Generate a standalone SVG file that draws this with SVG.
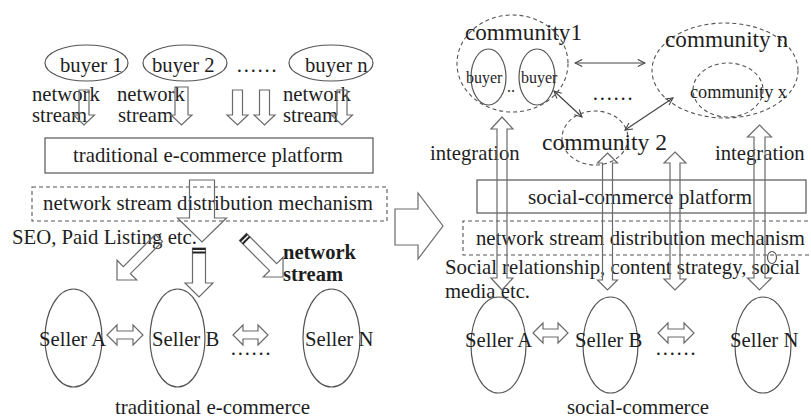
<svg xmlns="http://www.w3.org/2000/svg" width="811" height="419" viewBox="0 0 811 419">
  <defs>
    <style>
      text { font-family: "Liberation Serif", "Times New Roman", serif; font-size: 20.7px; fill: #1e1e1e; }
      .bold { font-weight: bold; font-size: 20.5px; }
      .node { fill: none; stroke: #555; stroke-width: 1.2; }
      .dash { fill: none; stroke: #555; stroke-width: 1.1; stroke-dasharray: 4 3; }
      .block { fill: none; stroke: #6a6a6a; stroke-width: 1.2; stroke-linejoin: miter; }
      .stripe { stroke: #222; stroke-width: 2; }
      .link { fill: none; stroke: #444; stroke-width: 1.2; marker-start: url(#open); marker-end: url(#open); }
    </style>
    <marker id="open" viewBox="0 0 10 10" refX="9" refY="5" markerWidth="9" markerHeight="9" markerUnits="userSpaceOnUse" orient="auto-start-reverse">
      <path d="M1,1 L9,5 L1,9" fill="none" stroke="#444" stroke-width="1.2"/>
    </marker>
  </defs>
  <rect width="811" height="419" fill="#ffffff"/>

  <!-- ===== traditional e-commerce (left half) ===== -->
  <g id="buyer1"><ellipse class="node" cx="86.5" cy="63" rx="41.5" ry="18"/><text x="60" y="72">buyer 1</text></g>
  <g id="buyer2"><ellipse class="node" cx="185" cy="63" rx="42" ry="18"/><text x="152" y="72">buyer 2</text></g>
  <g id="buyer-dots"><text x="236" y="72">……</text></g>
  <g id="buyerN"><ellipse class="node" cx="331" cy="63" rx="42" ry="18"/><text x="305" y="72">buyer n</text></g>

  <g id="stream-labels">
    <text x="32" y="101">network</text><text x="32" y="122">stream</text>
    <text x="117" y="101">network</text><text x="118" y="122">stream</text>
    <text x="283" y="101">network</text><text x="283" y="122">stream</text>
  </g>

  <g id="trad-platform">
    <rect class="node" x="45" y="138" width="328" height="35"/>
    <text x="73" y="162" textLength="270" lengthAdjust="spacingAndGlyphs">traditional e-commerce platform</text>
  </g>
  <g id="trad-mechanism">
    <rect class="dash" x="32" y="187" width="355" height="34"/>
    <text x="43" y="210" textLength="330" lengthAdjust="spacingAndGlyphs">network stream distribution mechanism</text>
  </g>
  <g id="seo-label"><text x="12" y="244" textLength="185" lengthAdjust="spacingAndGlyphs">SEO, Paid Listing etc.</text></g>
  <g id="bold-label">
    <text class="bold" x="283" y="259">network</text>
    <text class="bold" x="283" y="281">stream</text>
  </g>

  <g id="trad-sellerA"><ellipse class="node" cx="73.5" cy="338" rx="28.5" ry="49"/><text x="39" y="346">Seller A</text></g>
  <g id="trad-sellerB"><ellipse class="node" cx="177.5" cy="338" rx="27.5" ry="49"/><text x="152" y="346">Seller B</text></g>
  <g id="trad-seller-dots"><text x="230" y="355">……</text></g>
  <g id="trad-sellerN"><ellipse class="node" cx="331.5" cy="338" rx="28.5" ry="49"/><text x="305" y="346">Seller N</text></g>
  <g id="trad-caption"><text x="115" y="414" textLength="195" lengthAdjust="spacingAndGlyphs">traditional e-commerce</text></g>

  <!-- ===== social-commerce (right half) ===== -->
  <g id="community1">
    <ellipse class="dash" cx="512.5" cy="63.5" rx="55.5" ry="48.5"/>
    <text x="465" y="40" style="font-size:23px" textLength="117" lengthAdjust="spacingAndGlyphs">community1</text>
    <ellipse class="node" cx="488.5" cy="77" rx="17.5" ry="28"/>
    <ellipse class="node" cx="537" cy="77" rx="18" ry="28"/>
    <text x="466" y="83" style="font-size:16px">buyer</text>
    <text x="521" y="83" style="font-size:16px">buyer</text>
    <text x="507" y="92" style="font-size:16px">..</text>
  </g>
  <g id="communityN">
    <ellipse class="dash" cx="725" cy="70.5" rx="73" ry="47.5"/>
    <text x="665" y="47" style="font-size:23px" textLength="123" lengthAdjust="spacingAndGlyphs">community n</text>
    <ellipse class="dash" cx="728" cy="90" rx="35" ry="27"/>
    <text x="690" y="98" style="font-size:18px" textLength="97" lengthAdjust="spacingAndGlyphs">community x</text>
  </g>
  <g id="community-dots"><text x="592" y="100">……</text></g>
  <g id="community2">
    <ellipse class="dash" cx="595" cy="138" rx="33" ry="27"/>
    <text x="542" y="150" style="font-size:23.5px" textLength="125" lengthAdjust="spacingAndGlyphs">community 2</text>
  </g>
  <g id="integration-labels">
    <text x="430" y="160">integration</text>
    <text x="715" y="160">integration</text>
  </g>
  <g id="social-platform">
    <rect class="node" x="477" y="180" width="329" height="33"/>
    <text x="528" y="204" textLength="224" lengthAdjust="spacingAndGlyphs">social-commerce platform</text>
  </g>
  <g id="social-mechanism">
    <path class="dash" d="M815,221 H463 V255 H815"/>
    <text x="476" y="245" textLength="329" lengthAdjust="spacingAndGlyphs">network stream distribution mechanism</text>
    <ellipse class="node" cx="772" cy="257.5" rx="4.5" ry="6" stroke-width="0.9"/>
  </g>
  <g id="strategy-label">
    <text x="445" y="274" textLength="355" lengthAdjust="spacingAndGlyphs">Social relationship, content strategy, social</text>
    <text x="445" y="298">media etc.</text>
  </g>
  <g id="social-sellerA"><ellipse class="node" cx="498.5" cy="345" rx="27.5" ry="48"/><text x="465" y="347">Seller A</text></g>
  <g id="social-sellerB"><ellipse class="node" cx="610.5" cy="345" rx="27.5" ry="48"/><text x="575" y="347">Seller B</text></g>
  <g id="social-seller-dots"><text x="655" y="355">……</text></g>
  <g id="social-sellerN"><ellipse class="node" cx="763" cy="345" rx="28" ry="48"/><text x="730" y="347">Seller N</text></g>
  <g id="social-caption"><text x="567" y="414" textLength="142" lengthAdjust="spacingAndGlyphs">social-commerce</text></g>

  <!-- ===== connectors ===== -->
  <g id="connectors">
    <!-- buyer streams into the platform -->
    <polygon class="block" points="79,90 89,90 89,115 94.5,115 84,125 73.5,115 79,115"/>
    <polygon class="block" points="175,87 188,87 188,115 192,115 181.5,125 171,115 175,115"/>
    <polygon class="block" points="232.5,90 242.5,90 242.5,115 248,115 237.5,125 227,115 232.5,115"/>
    <polygon class="block" points="259.5,90 269.5,90 269.5,115 275,115 264.5,125 254,115 259.5,115"/>
    <polygon class="block" points="337,90 347,90 347,115 352.5,115 342,125 331.5,115 337,115"/>

    <!-- platform to distribution -->
    <polygon class="block" points="189.5,180 214.5,180 214.5,218 226.5,218 202,242 177.5,218 189.5,218"/>

    <!-- distribution to sellers -->
    <polygon class="block" transform="translate(159,238) rotate(135)" points="0,-5 45.4,-5 45.4,-14 59.4,0 45.4,14 45.4,5 0,5"/>
    <polygon class="block" points="192.5,248 205.5,248 205.5,283 213,283 199,297 185,283 192.5,283"/>
    <line class="stripe" x1="192.5" y1="249" x2="205.5" y2="249"/>
    <line class="stripe" x1="192.5" y1="252.5" x2="205.5" y2="252.5"/>
    <g transform="translate(243,237) rotate(45)">
      <polygon class="block" points="0,-5 42.6,-5 42.6,-14 56.6,0 42.6,14 42.6,5 0,5"/>
      <line class="stripe" x1="1" y1="-5" x2="1" y2="5"/>
      <line class="stripe" x1="4.5" y1="-5" x2="4.5" y2="5"/>
    </g>

    <!-- seller to seller -->
    <polygon class="block" points="107,335 117,325 117,331 133,331 133,325 143,335 133,345 133,339 117,339 117,345"/>
    <polygon class="block" points="233,335 243,325 243,331 258,331 258,325 268,335 258,345 258,339 243,339 243,345"/>

    <!-- transition arrow -->
    <polygon class="block" points="395,209 418,209 418,193 443,226 418,259 418,245 395,245"/>

    <!-- community links -->
    <line class="link" x1="575" y1="63" x2="645" y2="63"/>
    <line class="link" x1="554" y1="91" x2="582" y2="117"/>
    <line class="link" x1="625" y1="130" x2="673" y2="98"/>

    <!-- integration between communities and sellers -->
    <polygon class="block" points="502,117 513,129 507,129 507,278 513,278 502,290 491,278 497,278 497,129 491,129"/>
    <polygon class="block" points="607.5,153 617.5,163 612.5,163 612.5,280 617.5,280 607.5,290 597.5,280 602.5,280 602.5,163 597.5,163"/>
    <polygon class="block" points="675,152 686,163 680,163 680,279 686,279 675,290 664,279 670,279 670,163 664,163"/>
    <polygon class="block" points="759.5,125 771.5,137 765,137 765,278 771.5,278 759.5,290 747.5,278 754,278 754,137 747.5,137"/>

    <!-- seller to seller -->
    <polygon class="block" points="533,333 543,323 543,329 558,329 558,323 568,333 558,343 558,337 543,337 543,343"/>
    <polygon class="block" points="658,333 668,323 668,329 684,329 684,323 694,333 684,343 684,337 668,337 668,343"/>
  </g>
</svg>
